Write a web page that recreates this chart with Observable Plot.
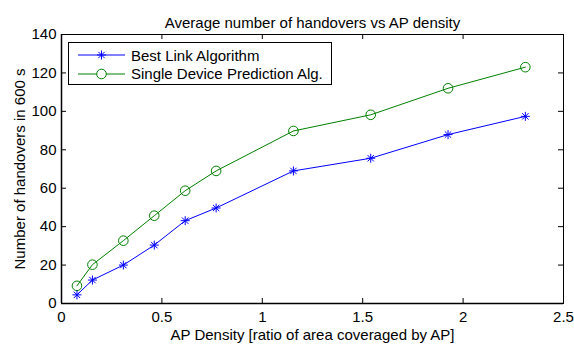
<!DOCTYPE html>
<html>
<head>
<meta charset="utf-8">
<script src="https://cdn.jsdelivr.net/npm/d3@7"></script>
<script src="https://cdn.jsdelivr.net/npm/@observablehq/plot@0.6"></script>
<style>
  html, body { margin: 0; padding: 0; background: #fff; }
  #chart { position: relative; width: 574px; height: 345px; font-family: "Liberation Sans", Arial, sans-serif; }
  #chart svg text { font-size: 15px; }
  #legend { position: absolute; left: 68px; top: 42px; width: 262px; height: 41px; border: 1px solid #000; background: #fff; font-size: 15px; color: #000; }
  .row { position: absolute; left: 0; height: 18px; display: flex; align-items: center; }
  .row svg { margin-left: 9px; }
  .row span { margin-left: 5px; white-space: nowrap; }
</style>
</head>
<body>
<div id="chart"></div>
<script>
const density = [0.077, 0.154, 0.308, 0.462, 0.616, 0.77, 1.155, 1.54, 1.925, 2.31];
const bestLink = [4.5, 12.2, 20, 30.4, 43.1, 49.7, 69, 75.6, 87.9, 97.4];
const singleDevice = [9.2, 20.2, 32.7, 45.7, 58.7, 69, 89.8, 98.2, 112, 123];
const seriesNames = ["Best Link Algorithm", "Single Device Prediction Alg."];
const seriesColors = ["#0000ff", "#008000"];
const xTicks = [0, 0.5, 1, 1.5, 2, 2.5];
const yTicks = [0, 20, 40, 60, 80, 100, 120, 140];
const titleText = "Average number of handovers vs AP density";
const xLabel = "AP Density [ratio of area coveraged by AP]";
const yLabel = "Number of handovers in 600 s";

const blue = density.map((x, i) => ({x, y: bestLink[i]}));
const green = density.map((x, i) => ({x, y: singleDevice[i]}));

// MATLAB-style 8-armed asterisk
const asterisk = {
  draw(context, size) {
    const r = Math.sqrt(size / Math.PI);
    const d = r * Math.SQRT1_2;
    context.moveTo(0, -r); context.lineTo(0, r);
    context.moveTo(-r, 0); context.lineTo(r, 0);
    context.moveTo(-d, -d); context.lineTo(d, d);
    context.moveTo(-d, d); context.lineTo(d, -d);
  }
};

const W = 574, H = 345, ML = 61, MR = 11, MT = 34, MB = 42;
const fw = W - ML - MR, fh = H - MT - MB, tk = 5;

const plot = Plot.plot({
  width: W,
  height: H,
  marginLeft: ML,
  marginRight: MR,
  marginTop: MT,
  marginBottom: MB,
  style: {fontFamily: "Liberation Sans, Arial, sans-serif", fontSize: "15px", color: "#000", background: "#fff", overflow: "visible"},
  x: {domain: [0, 2.5]},
  y: {domain: [0, 140]},
  marks: [
    Plot.frame({stroke: "#000", strokeWidth: 1}),
    Plot.axisX(xTicks, {tickSize: 0, tickPadding: 8, tickFormat: d => String(d), fontSize: 15, label: xLabel, labelAnchor: "center", labelArrow: "none", labelOffset: 36}),
    Plot.axisY(yTicks, {tickSize: 0, tickPadding: 5, tickFormat: d => String(d), fontSize: 15, label: yLabel, labelAnchor: "center", labelArrow: "none", labelOffset: 47}),
    Plot.ruleX(xTicks, {x: d => d, insetTop: fh - tk, stroke: "#000"}),
    Plot.ruleX(xTicks, {x: d => d, insetBottom: fh - tk, stroke: "#000"}),
    Plot.ruleY(yTicks, {y: d => d, insetRight: fw - tk, stroke: "#000"}),
    Plot.ruleY(yTicks, {y: d => d, insetLeft: fw - tk, stroke: "#000"}),
    Plot.ruleY([0], {stroke: "#000", strokeWidth: 1.5}),
    Plot.ruleX([0], {stroke: "#000", strokeWidth: 1.5}),
    Plot.line(green, {x: "x", y: "y", stroke: seriesColors[1], strokeWidth: 1}),
    Plot.dot(green, {x: "x", y: "y", stroke: seriesColors[1], fill: "none", r: 4.8, strokeWidth: 1}),
    Plot.line(blue, {x: "x", y: "y", stroke: seriesColors[0], strokeWidth: 1}),
    Plot.dot(blue, {x: "x", y: "y", stroke: seriesColors[0], symbol: asterisk, r: 4.5, strokeWidth: 1}),
    Plot.text([titleText], {frameAnchor: "top", dy: -17, fontSize: 15, fill: "#000"})
  ]
});

const chart = document.getElementById("chart");
chart.appendChild(plot);

const legend = document.createElement("div");
legend.id = "legend";
const symbolsSvg = [
  `<svg width="48" height="12"><line x1="0" y1="6" x2="47" y2="6" stroke="${seriesColors[0]}" stroke-width="1"/><g stroke="${seriesColors[0]}" stroke-width="1"><line x1="23.5" y1="1.5" x2="23.5" y2="10.5"/><line x1="19" y1="6" x2="28" y2="6"/><line x1="20.3" y1="2.8" x2="26.7" y2="9.2"/><line x1="20.3" y1="9.2" x2="26.7" y2="2.8"/></g></svg>`,
  `<svg width="48" height="12"><line x1="0" y1="6" x2="47" y2="6" stroke="${seriesColors[1]}" stroke-width="1"/><circle cx="23.5" cy="6" r="4.8" fill="#fff" stroke="${seriesColors[1]}" stroke-width="1"/></svg>`
];
seriesNames.forEach((name, i) => {
  const row = document.createElement("div");
  row.className = "row";
  row.style.top = (i === 0 ? 3 : 21.5) + "px";
  row.innerHTML = symbolsSvg[i] + `<span>${name}</span>`;
  legend.appendChild(row);
});
chart.appendChild(legend);
</script>
</body>
</html>
